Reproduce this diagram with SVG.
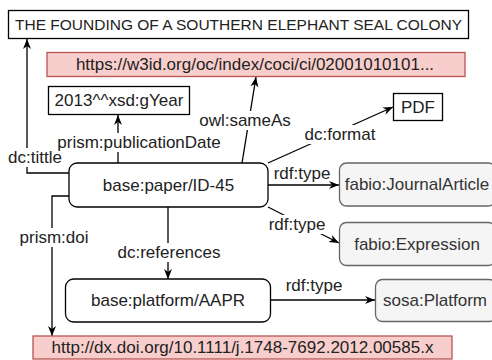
<svg xmlns="http://www.w3.org/2000/svg" width="492" height="360" viewBox="0 0 492 360">
<style>
  text { font-family: "Liberation Sans", Arial, Helvetica, sans-serif; font-size: 17px; fill: #222; text-anchor: middle; dominant-baseline: central; }
  .box { fill: #ffffff; stroke: #000000; stroke-width: 1.3; }
  .gray { fill: #f5f5f5; stroke: #666666; stroke-width: 1.3; }
  .red { fill: #f8cecc; stroke: #b85450; stroke-width: 1.3; }
  .gray-t { fill: #333333; }
  .edge { fill: none; stroke: #000000; stroke-width: 1.3; marker-end: url(#arrow); }
  .lbg { fill: #ffffff; }
</style>
<defs>
  <marker id="arrow" viewBox="0 0 10 10" refX="10" refY="5" markerWidth="10" markerHeight="10" markerUnits="userSpaceOnUse" orient="auto">
    <path d="M0,1 L10,5 L0,9 L3,5 Z" fill="#000000"/>
  </marker>
</defs>
<rect width="492" height="360" fill="#ffffff"/>

<g id="connectors">
  <path class="edge" d="M69,173 H27 V39"/>
  <path class="edge" d="M69,196 H52 V336"/>
  <path class="edge" d="M118,163 V115"/>
  <path class="edge" d="M242,163 L256,77"/>
  <path class="edge" d="M268,163 L393,107"/>
  <path class="edge" d="M268,185 H339"/>
  <path class="edge" d="M268,207 L339,243"/>
  <path class="edge" d="M168,207 V279"/>
  <path class="edge" d="M271,300 H375"/>
  <g id="edge-labels">
    <rect class="lbg" x="7" y="148" width="57" height="19"/>
    <text x="35" y="157">dc:tittle</text>
    <rect class="lbg" x="19" y="228" width="71" height="19"/>
    <text x="54" y="237">prism:doi</text>
    <rect class="lbg" x="57" y="133" width="164" height="19"/>
    <text x="139" y="142">prism:publicationDate</text>
    <rect class="lbg" x="201" y="111" width="88" height="19"/>
    <text x="245" y="120">owl:sameAs</text>
    <rect class="lbg" x="305" y="125" width="71" height="19"/>
    <text x="340" y="134">dc:format</text>
    <text x="302" y="173">rdf:type</text>
    <rect class="lbg" x="268" y="215" width="59" height="19"/>
    <text x="297" y="224">rdf:type</text>
    <rect class="lbg" x="118" y="243" width="102" height="19"/>
    <text x="169" y="252">dc:references</text>
    <text x="314" y="285">rdf:type</text>
  </g>
</g>

<g id="title">
  <rect class="box" x="8.5" y="10.5" width="460" height="28"/>
  <text x="238.5" y="24.5" style="font-size:15.5px">THE FOUNDING OF A SOUTHERN ELEPHANT SEAL COLONY</text>
</g>
<g id="w3id">
  <rect class="red" x="47" y="52.5" width="418" height="24"/>
  <text x="255" y="64.5">https://w3id.org/oc/index/coci/ci/02001010101...</text>
</g>
<g id="year">
  <rect class="box" x="48.5" y="86.5" width="141" height="28"/>
  <text x="119" y="100.5">2013^^xsd:gYear</text>
</g>
<g id="pdf">
  <rect class="box" x="393.5" y="93.5" width="49" height="27"/>
  <text x="418" y="107">PDF</text>
</g>
<g id="paper">
  <rect class="box" x="69" y="163" width="199" height="44" rx="8" ry="8"/>
  <text x="168.5" y="185">base:paper/ID-45</text>
</g>
<g id="journalarticle">
  <rect class="gray" x="339.5" y="163" width="156" height="43" rx="7" ry="7"/>
  <text class="gray-t" x="417" y="184.5">fabio:JournalArticle</text>
</g>
<g id="expression">
  <rect class="gray" x="339.5" y="222.5" width="156" height="43" rx="7" ry="7"/>
  <text class="gray-t" x="417" y="244">fabio:Expression</text>
</g>
<g id="platform">
  <rect class="box" x="65.5" y="279" width="205" height="43" rx="8" ry="8"/>
  <text x="168" y="300.5">base:platform/AAPR</text>
</g>
<g id="sosa">
  <rect class="gray" x="375.5" y="279.5" width="121" height="42" rx="7" ry="7"/>
  <text class="gray-t" x="435" y="300.5">sosa:Platform</text>
</g>
<g id="doi">
  <rect class="red" x="33" y="336" width="419" height="23"/>
  <text x="242.5" y="347.5">http://dx.doi.org/10.1111/j.1748-7692.2012.00585.x</text>
</g>
</svg>
